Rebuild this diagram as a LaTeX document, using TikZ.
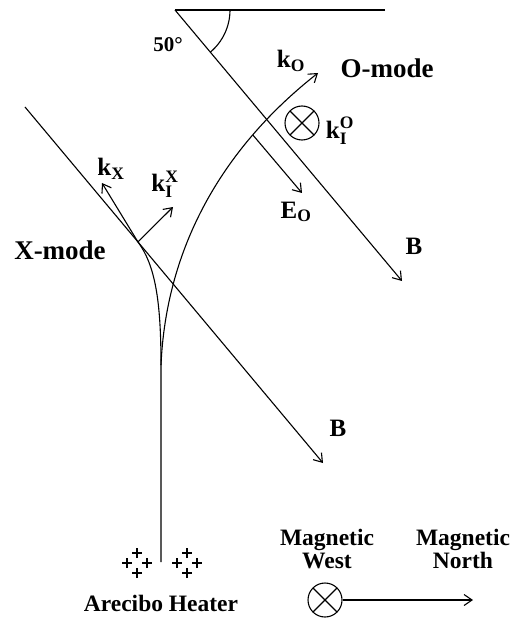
\documentclass[tikz,border=0pt]{standalone}
\usepackage{amsmath}
\usepackage{fontspec}
\setmainfont{Liberation Serif}
\usepackage{tikz}
\usetikzlibrary{shapes, arrows, arrows.meta, calc}

\begin{document}
\begin{tikzpicture}[x=1pt, y=1pt, line width=1.1pt, >={Straight Barb[length=8pt, width=11pt]},
			tag/.style={font=\fontsize{25}{25}\selectfont\bfseries, inner sep=0pt},
			modetag/.style={font=\fontsize{27}{27}\selectfont\bfseries, inner sep=0pt},
			legend/.style={font=\fontsize{23.5}{23}\selectfont\bfseries, inner sep=0pt, align=center},
			crossdot/.style={draw, circle, minimum size=34pt, inner sep=0pt,
				path picture={\draw (path picture bounding box.north west) -- (path picture bounding box.south east)
					(path picture bounding box.south west) -- (path picture bounding box.north east);}}
			]
			\useasboundingbox (0,0) rectangle (517,-620);
			
			\coordinate (vertex) at (175,-10);
			\coordinate (horizon) at (385,-10);
			\coordinate (B1tip) at (402,-281);
			\coordinate (B2start) at (25,-107);
			\coordinate (B2tip) at (323,-463);
			\coordinate (heater) at (161,-562);
			\coordinate (split) at (161,-365);
			\coordinate (kOtip) at (318,-73);
			\coordinate (Xturn) at ($(B2start)!0.379!(B2tip)$);
			\coordinate (kXtip) at (102,-183);
			\coordinate (kIXtip) at (173,-207);
			\coordinate (EOtip) at (302,-193);
			
			% magnetic field
			\draw (horizon) -- (vertex);
			\draw[->] (vertex) -- (B1tip);
			\draw[->] (B2start) -- (B2tip);
			\draw (vertex) ++(55,0) arc (0:-50:55);
			\node [tag, font=\fontsize{21}{21}\selectfont\bfseries](angle) at (168,-45) {50\textdegree};
			\node [tag](B1) at (414,-246) {B};
			\node [tag](B2) at (338,-428) {B};
			
			% O-mode ray
			\draw[->] (heater) -- (split) .. controls (166,-250) and (220,-150) .. (kOtip) coordinate[pos=0.75] (EOfoot);
			\draw[->] (EOfoot) -- (EOtip);
			\node [crossdot](kIO) at (302,-123) {};
			\node [tag](kO) at (291,-61) {k\textsubscript{O}};
			\node [modetag](Omode) at (387,-68) {O-mode};
			\node [tag](kIOlab) at (340,-131) {k$_{\text{I}}^{\text{O}}$};
			\node [tag](EO) at (296,-212) {E\textsubscript{O}};
			
			% X-mode ray
			\draw (split) .. controls (161,-300) and (155,-265) .. (Xturn);
			\draw[->] (Xturn) -- (kXtip);
			\draw[->] (Xturn) -- (kIXtip);
			\node [tag](kX) at (111,-169) {k\textsubscript{X}};
			\node [tag](kIX) at (165,-184) {k$_{\text{I}}^{\text{X}}$};
			\node [modetag](Xmode) at (60,-250) {X-mode};
			
			% heater array
			\foreach \cx in {137,187}
				\foreach \dx/\dy in {0/10, -10/0, 10/0, 0/-10}
					\draw[line width=1.4pt] (\cx+\dx-5,-563+\dy) -- (\cx+\dx+5,-563+\dy) (\cx+\dx,-568+\dy) -- (\cx+\dx,-558+\dy);
			\node [legend](heaterlab) at (161,-603) {Arecibo Heater};
			
			% directions
			\node [legend](west) at (327,-549) {Magnetic\\West};
			\node [legend](north) at (463,-549) {Magnetic\\North};
			\node [crossdot](westsym) at (325,-600) {};
			\coordinate (northtip) at (473,-600);
			\draw[->] (westsym) -- (northtip);
		\end{tikzpicture}
\end{document}
